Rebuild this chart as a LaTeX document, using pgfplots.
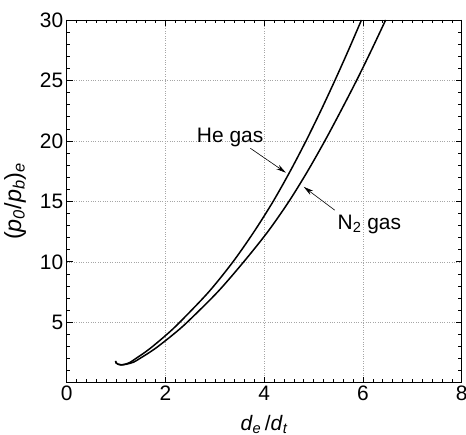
\documentclass[border=0pt]{standalone}
\usepackage{pgfplots}
\pgfplotsset{compat=1.18}
\usepackage{fontspec}
\setmainfont{Liberation Sans}
\usetikzlibrary{arrows.meta}

% Exit pressure ratio versus exit-to-throat diameter ratio
\pgfplotstableread{
x y
0.99 1.80
1.00 1.64
1.04 1.53
1.10 1.48
1.19 1.54
1.29 1.70
1.40 2.00
1.58 2.50
1.74 3.00
2.03 4.00
2.29 5.00
2.875 7.50
3.368 10.00
3.796 12.50
4.182 15.00
4.527 17.50
4.847 20.00
5.147 22.50
5.432 25.00
5.706 27.50
5.970 30.00
}\hegas

\pgfplotstableread{
x y
0.99 1.80
1.00 1.64
1.04 1.53
1.10 1.47
1.20 1.52
1.35 1.69
1.48 2.00
1.675 2.50
1.85 3.00
2.16 4.00
2.44 5.00
3.056 7.50
3.586 10.00
4.075 12.50
4.502 15.00
4.880 17.50
5.228 20.00
5.555 22.50
5.871 25.00
6.171 27.50
6.460 30.00
}\ntwogas

\begin{document}
\begin{tikzpicture}
\useasboundingbox (-66.7bp,-52.3bp) rectangle (399.3bp,382.7bp);
\begin{axis}[
  scale only axis,
  width=395bp, height=362.7bp,
  xmin=0, xmax=8, ymin=0, ymax=30,
  xtick={0,2,4,6,8},
  ytick={5,10,15,20,25,30},
  minor xtick={0,0.2,...,8},
  minor ytick={0,1,...,30},
  tick align=inside,
  major tick length=6bp,
  minor tick length=3.5bp,
  every tick/.style={black, line width=0.6bp},
  axis line style={black, line width=0.8bp},
  grid=major,
  major grid style={gray!70, dotted, line width=0.5bp},
  /pgf/number format/assume math mode=true,
  tick label style={font=\fontsize{21}{24}\selectfont},
  label style={font=\fontsize{21}{24}\selectfont},
  xlabel={\textit{d}\textsubscript{\textit{e}}\,/\textit{d}\textsubscript{\textit{t}}},
  ylabel={(\textit{p}\textsubscript{\textit{0}}/\textit{p}\textsubscript{\textit{b}})\textsubscript{\textit{e}}},
  xlabel style={at={(axis description cs:0.5,-0.114)}, anchor=center},
  ylabel style={at={(axis description cs:-0.131,0.5)}, anchor=center,
                font=\fontsize{23.5}{26}\selectfont},
]
\addplot[black, line width=1.5bp, smooth] table[x=x, y=y] {\hegas};
\addplot[black, line width=1.5bp, smooth] table[x=x, y=y] {\ntwogas};

\node[font=\fontsize{21}{24}\selectfont] at (axis cs:3.31,20.3) {He gas};
\draw[-{Stealth[length=10bp,width=5bp]}, line width=0.6bp] (axis cs:3.72,19.39) -- (axis cs:4.44,17.37);

\node[font=\fontsize{21}{24}\selectfont] at (axis cs:6.13,13.1) {N\textsubscript{2} gas};
\draw[-{Stealth[length=10bp,width=5bp]}, line width=0.6bp] (axis cs:5.43,14.27) -- (axis cs:4.80,16.2);
\end{axis}
\end{tikzpicture}
\end{document}
